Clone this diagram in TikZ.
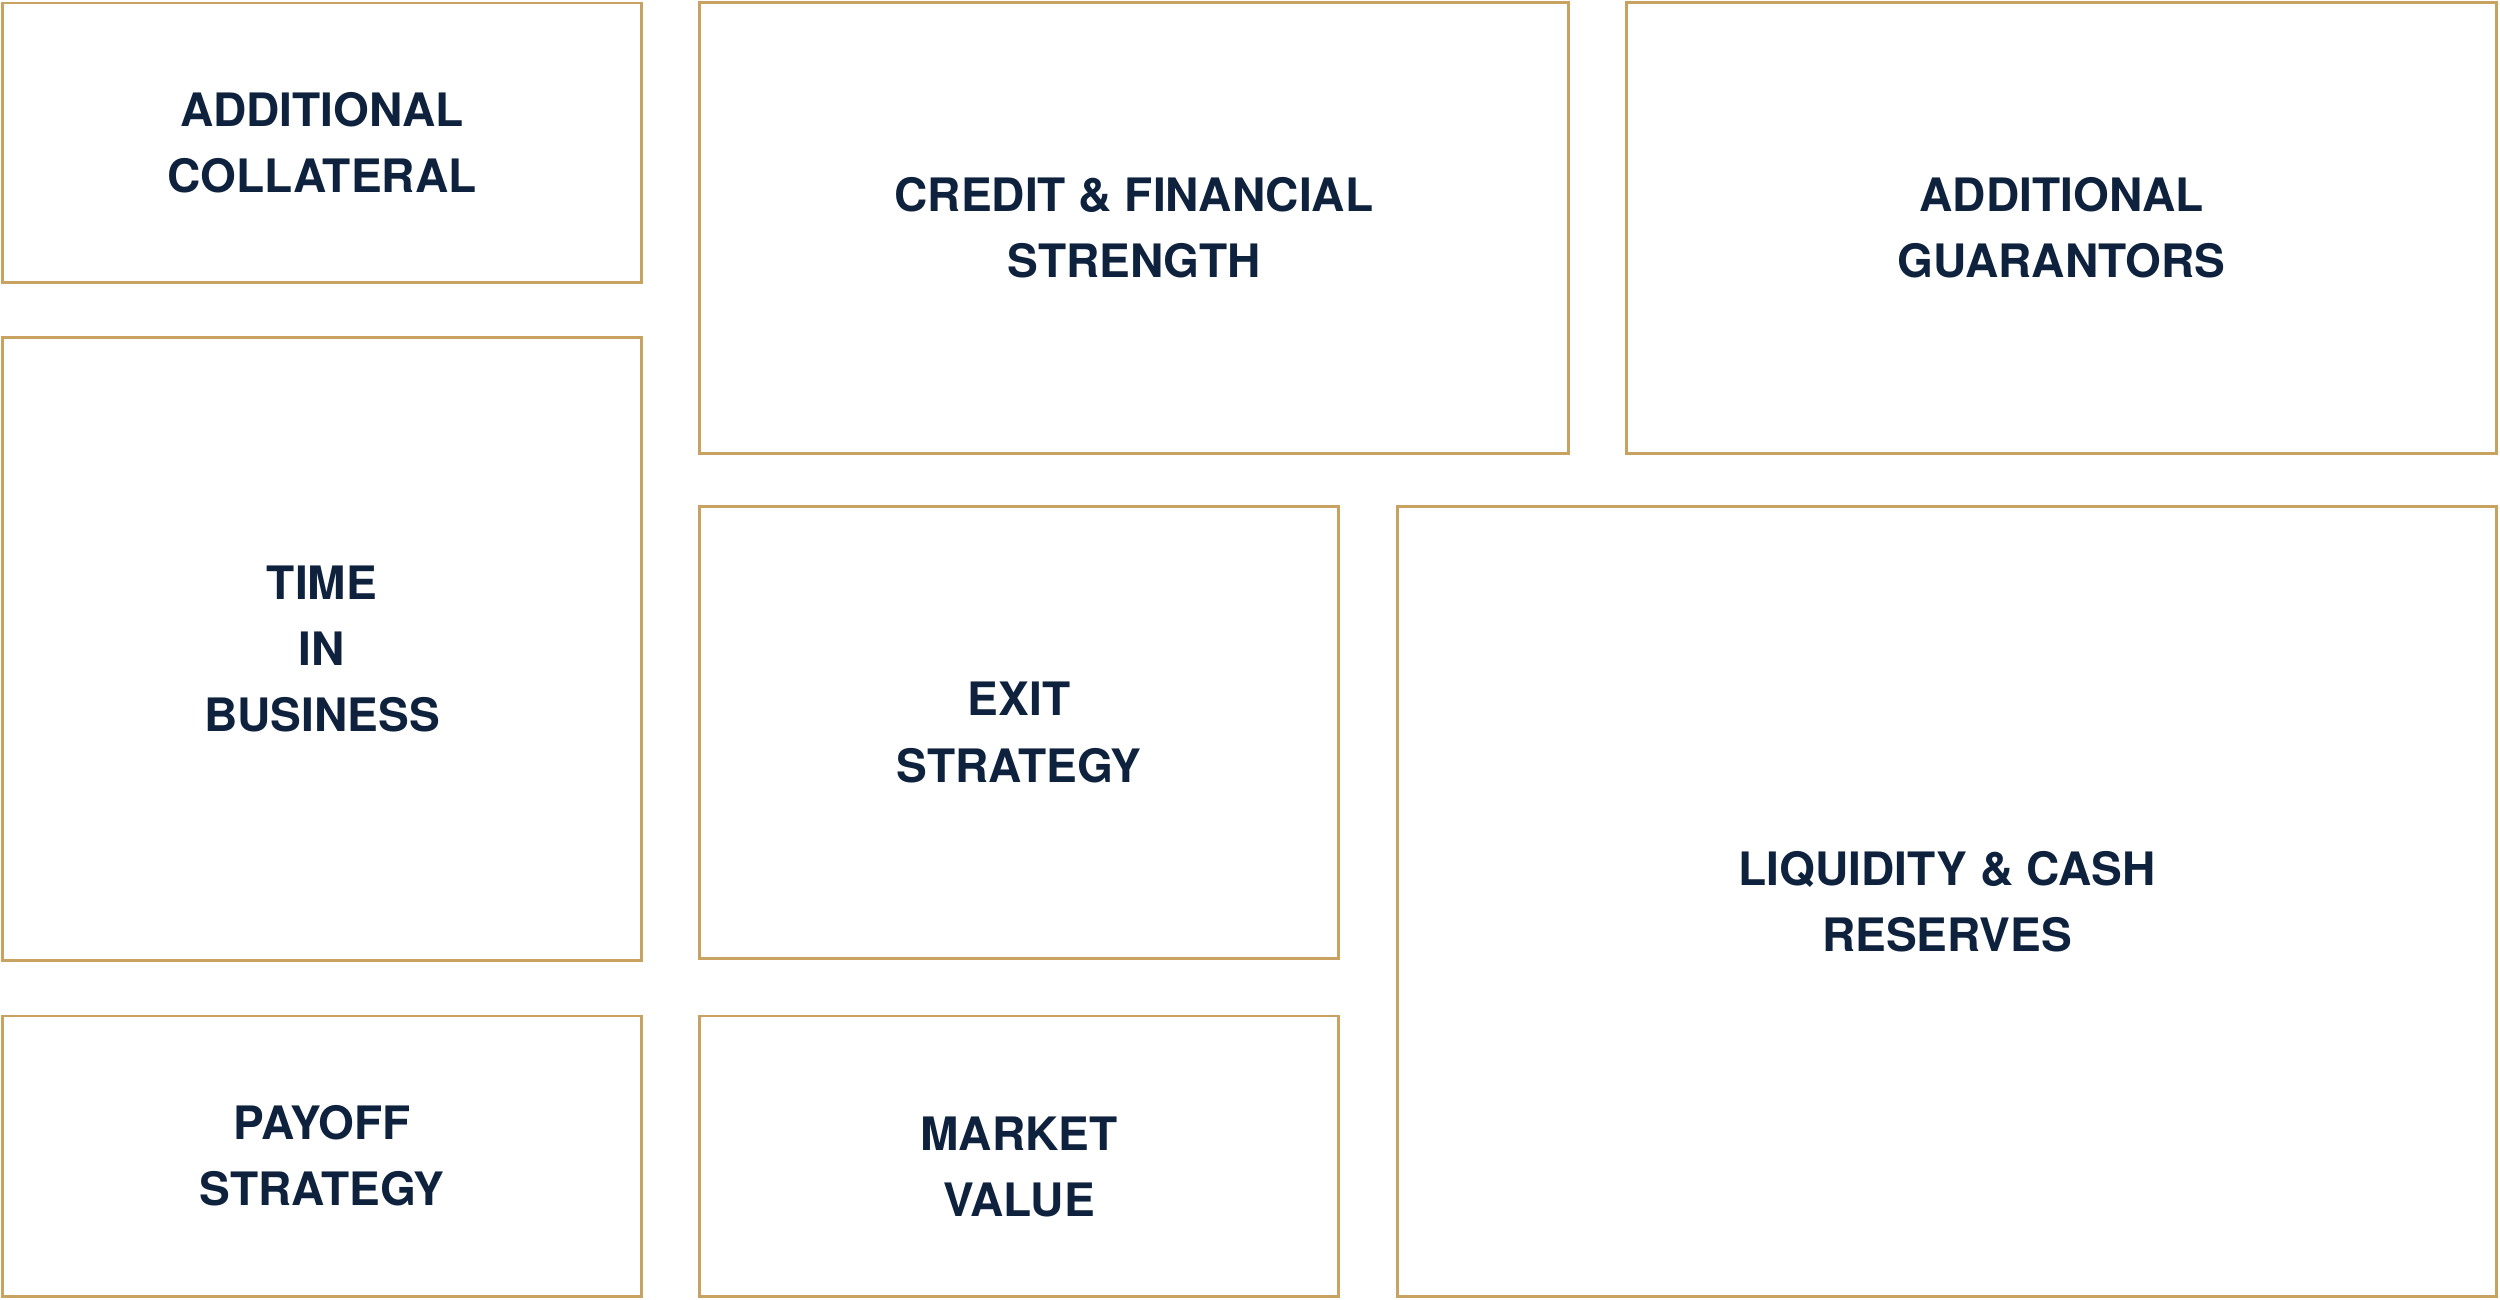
\documentclass[tikz,border=0pt]{standalone}
\usepackage{fontspec}
\setmainfont{TeX Gyre Heros}
\usepackage{xcolor}
\definecolor{gold}{RGB}{200,162,96}
\definecolor{navy}{RGB}{14,34,62}
\tikzset{%
	every block/.style={
		rectangle,
		draw=gold,
		line width=0.8pt,
		inner sep=0pt
	},
	every caption/.style={
		align=center,
		text=navy,
		inner sep=0pt,
		font=\fontsize{13.1pt}{18.8pt}\selectfont\bfseries
	},
}
\begin{document}
\begin{tikzpicture}[x=0.01cm, y=-0.01cm]
			
			\useasboundingbox (0,0) rectangle (2500,1299);
			
			\foreach \n/\x/\y/\w/\h in {collateral/322/142.5/6.38/2.79, credit/1134/228/8.68/4.50, guarantors/2061.5/228/8.69/4.50, business/322/649/6.38/6.22, exit/1019/732.5/6.38/4.51, liquidity/1947/901.5/10.98/7.89, payoff/322/1156/6.38/2.80, market/1019/1156/6.38/2.80}
			\node [every block, minimum width=\w cm, minimum height=\h cm] (\n) at (\x,\y) {};
			
			\foreach \n/\dy/\t in {collateral/0/{ADDITIONAL\\COLLATERAL}, credit/0/{CREDIT \& FINANCIAL\\STRENGTH}, guarantors/0/{ADDITIONAL\\GUARANTORS}, business/0/{TIME\\IN\\BUSINESS}, exit/0/{EXIT\\STRATEGY}, liquidity/0/{LIQUIDITY \& CASH\\RESERVES}, payoff/0/{PAYOFF\\STRATEGY}, market/-0.11cm/{MARKET\\VALUE}}
			\node [every caption] (\n-text) at ([yshift=\dy]\n.center) {\t};
			
\end{tikzpicture}
\end{document}
